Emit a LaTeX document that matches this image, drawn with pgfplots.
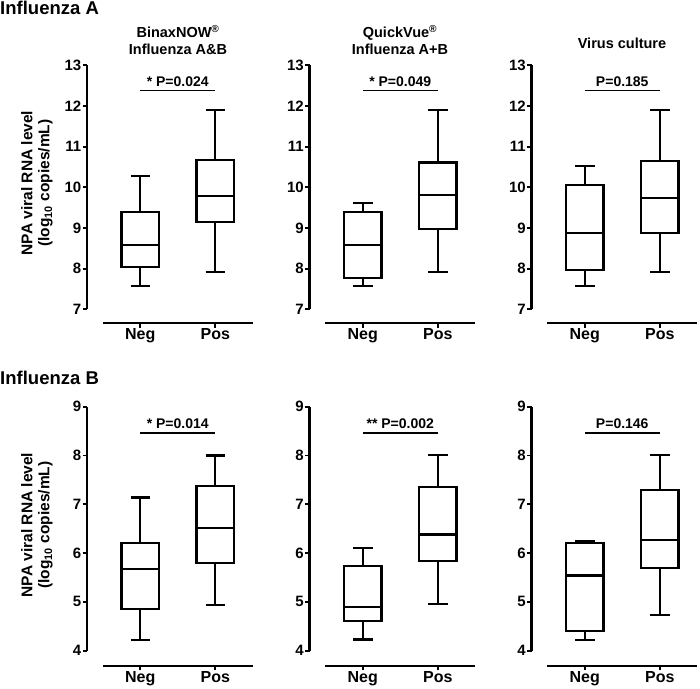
\documentclass[border=0pt]{standalone}
\usepackage{fontspec}
\setmainfont{Liberation Sans}
\usepackage{pgfplots}
\pgfplotsset{compat=1.18}
\usepgfplotslibrary{statistics}

\pgfplotsset{
  prism/.style={
    scale only axis, width=165.75pt,
    xmin=0.29, xmax=2.5,
    axis lines*=left,
    axis line style={draw=none},
    tick align=outside,
    major tick length=4.5pt,
    every tick/.style={line width=1.8pt, black},
    xtick={1,2}, xticklabels={Neg,Pos},
    xticklabel style={font=\fontsize{16}{18}\selectfont\bfseries, inner sep=1pt},
    yticklabel style={font=\fontsize{15}{17}\selectfont\bfseries, inner sep=1pt},
    /pgf/number format/assume math mode=true,
    boxplot/draw direction=y,
    clip=false,
  },
  toprow/.style={prism, height=257.8pt, ymin=6.66, ymax=13, ytick={7,8,9,10,11,12,13}},
  botrow/.style={prism, height=259.1pt, ymin=3.69, ymax=9, ytick={4,5,6,7,8,9}},
  bx/.style={black, line width=2.1pt, solid},
}
\newcommand{\topaxes}{%
  \draw[line width=2.1pt] (axis cs:0.29,7) -- (axis cs:0.29,13);
  \draw[line width=2.1pt] (axis cs:0.5,6.66) -- (axis cs:2.5,6.66);}
\newcommand{\botaxes}{%
  \draw[line width=2.1pt] (axis cs:0.29,4) -- (axis cs:0.29,9);
  \draw[line width=2.1pt] (axis cs:0.5,3.69) -- (axis cs:2.5,3.69);}
\newcommand{\pbar}[2]{%
  \draw[line width=1.9pt] (axis cs:1,#1) -- (axis cs:2,#1);
  \node[anchor=base, inner sep=0pt, font=\fontsize{14}{16}\selectfont\bfseries] at ([yshift=4.5pt]axis cs:1.5,#1) {#2};}

\begin{document}
\begin{tikzpicture}
\useasboundingbox (0,0) rectangle (700pt,688pt);

\node[anchor=base west, inner sep=0pt, font=\fontsize{18.5}{22}\selectfont\bfseries] at (0pt,673pt) {Influenza A};
\node[anchor=base west, inner sep=0pt, font=\fontsize{18.5}{22}\selectfont\bfseries] at (0pt,303pt) {Influenza B};

\node[anchor=base, inner sep=0pt, font=\fontsize{14.5}{17}\selectfont\bfseries] at (178pt,650pt) {BinaxNOW\textsuperscript{®}};
\node[anchor=base, inner sep=0pt, font=\fontsize{14.5}{17}\selectfont\bfseries] at (178pt,633pt) {Influenza A\&B};
\node[anchor=base, inner sep=0pt, font=\fontsize{14.5}{17}\selectfont\bfseries] at (400pt,650pt) {QuickVue\textsuperscript{®}};
\node[anchor=base, inner sep=0pt, font=\fontsize{14.5}{17}\selectfont\bfseries] at (400pt,633pt) {Influenza A+B};
\node[anchor=base, inner sep=0pt, font=\fontsize{14.5}{17}\selectfont\bfseries] at (622pt,639pt) {Virus culture};

\node[rotate=90, align=center, inner sep=0pt, font=\fontsize{15.5}{17}\selectfont\bfseries] at (37pt,505pt) {NPA viral RNA level\\(log\textsubscript{10} copies/mL)};
\node[rotate=90, align=center, inner sep=0pt, font=\fontsize{15.5}{17}\selectfont\bfseries] at (37pt,163pt) {NPA viral RNA level\\(log\textsubscript{10} copies/mL)};

% Panel 1
\begin{axis}[toprow, at={(87pt,364.9pt)}, anchor=south west]
\topaxes
\addplot[bx, boxplot prepared={draw position=1, lower whisker=7.57, lower quartile=8.05, median=8.58, upper quartile=9.40, upper whisker=10.28, box extend=0.5, whisker extend=0.26}] coordinates {};
\addplot[bx, boxplot prepared={draw position=2, lower whisker=7.91, lower quartile=9.15, median=9.79, upper quartile=10.66, upper whisker=11.89, box extend=0.5, whisker extend=0.26}] coordinates {};
\pbar{12.38}{* P=0.024}
\end{axis}

% Panel 2
\begin{axis}[toprow, at={(309.5pt,364.9pt)}, anchor=south west]
\topaxes
\addplot[bx, boxplot prepared={draw position=1, lower whisker=7.57, lower quartile=7.78, median=8.58, upper quartile=9.40, upper whisker=9.61, box extend=0.5, whisker extend=0.26}] coordinates {};
\addplot[bx, boxplot prepared={draw position=2, lower whisker=7.91, lower quartile=8.98, median=9.80, upper quartile=10.61, upper whisker=11.89, box extend=0.5, whisker extend=0.26}] coordinates {};
\pbar{12.38}{* P=0.049}
\end{axis}

% Panel 3
\begin{axis}[toprow, at={(531.5pt,364.9pt)}, anchor=south west]
\topaxes
\addplot[bx, boxplot prepared={draw position=1, lower whisker=7.57, lower quartile=7.97, median=8.87, upper quartile=10.06, upper whisker=10.52, box extend=0.5, whisker extend=0.26}] coordinates {};
\addplot[bx, boxplot prepared={draw position=2, lower whisker=7.91, lower quartile=8.88, median=9.73, upper quartile=10.65, upper whisker=11.89, box extend=0.5, whisker extend=0.26}] coordinates {};
\pbar{12.38}{P=0.185}
\end{axis}

% Panel 4
\begin{axis}[botrow, at={(87pt,22.2pt)}, anchor=south west]
\botaxes
\addplot[bx, boxplot prepared={draw position=1, lower whisker=4.22, lower quartile=4.85, median=5.67, upper quartile=6.21, upper whisker=7.14, box extend=0.5, whisker extend=0.26}] coordinates {};
\addplot[bx, boxplot prepared={draw position=2, lower whisker=4.94, lower quartile=5.80, median=6.51, upper quartile=7.38, upper whisker=8.00, box extend=0.5, whisker extend=0.26}] coordinates {};
\pbar{8.47}{* P=0.014}
\end{axis}

% Panel 5
\begin{axis}[botrow, at={(309.5pt,22.2pt)}, anchor=south west]
\botaxes
\addplot[bx, boxplot prepared={draw position=1, lower whisker=4.23, lower quartile=4.61, median=4.90, upper quartile=5.74, upper whisker=6.10, box extend=0.5, whisker extend=0.26}] coordinates {};
\addplot[bx, boxplot prepared={draw position=2, lower whisker=4.95, lower quartile=5.83, median=6.38, upper quartile=7.35, upper whisker=8.01, box extend=0.5, whisker extend=0.26}] coordinates {};
\pbar{8.47}{** P=0.002}
\end{axis}

% Panel 6
\begin{axis}[botrow, at={(531.5pt,22.2pt)}, anchor=south west]
\botaxes
\addplot[bx, boxplot prepared={draw position=1, lower whisker=4.22, lower quartile=4.41, median=5.54, upper quartile=6.21, upper whisker=6.24, box extend=0.5, whisker extend=0.26}] coordinates {};
\addplot[bx, boxplot prepared={draw position=2, lower whisker=4.74, lower quartile=5.69, median=6.27, upper quartile=7.29, upper whisker=8.01, box extend=0.5, whisker extend=0.26}] coordinates {};
\pbar{8.47}{P=0.146}
\end{axis}
\end{tikzpicture}
\end{document}
